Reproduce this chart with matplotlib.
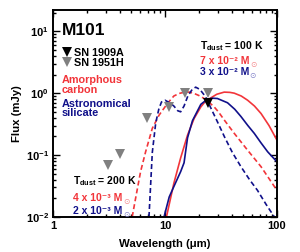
import matplotlib
matplotlib.use("Agg")
import matplotlib.pyplot as plt
from matplotlib.lines import Line2D
from matplotlib.ticker import FixedLocator, FixedFormatter, LogLocator, NullFormatter

plt.rcParams['font.family'] = ['Liberation Sans', 'DejaVu Sans']
plt.rcParams['font.weight'] = 'bold'
plt.rcParams['mathtext.fontset'] = 'custom'
plt.rcParams['mathtext.rm'] = 'Liberation Sans:bold'
plt.rcParams['mathtext.bf'] = 'Liberation Sans:bold'
plt.rcParams['mathtext.it'] = 'Liberation Sans:bold'

# Observations
sn1951h_wl = [3.1, 4.0, 6.9, 10.9, 15.1, 24.0]
sn1951h_flux = [0.069, 0.104, 0.40, 0.60, 1.01, 1.0]
sn1909a_wl = [24.0]
sn1909a_flux = [0.70]

# Models
carbon100_wl = [10.3, 12.0, 13.8, 15.9, 18.2, 20.9, 23.0, 25.7, 29.0, 33.8, 38.0, 41.6, 48.0, 54.7, 63.0, 72.1, 85.0, 100.0]
carbon100_flux = [0.01, 0.035, 0.09, 0.21, 0.39, 0.60, 0.74, 0.84, 0.96, 1.04, 1.03, 1.0, 0.90, 0.77, 0.62, 0.47, 0.30, 0.175]

silicate100_wl = [9.8, 10.9, 12.0, 13.8, 14.8, 15.9, 17.6, 20.9, 23.9, 26.5, 29.4, 36.2, 42.0, 47.7, 55.0, 62.8, 72.0, 82.7, 100.0]
silicate100_flux = [0.01, 0.021, 0.031, 0.054, 0.075, 0.19, 0.36, 0.66, 0.80, 0.83, 0.82, 0.70, 0.55, 0.42, 0.30, 0.224, 0.158, 0.113, 0.078]

carbon200_wl = [5.09, 5.46, 6.05, 6.71, 7.7, 8.84, 10.5, 12.0, 13.4, 15.0, 16.5, 18.2, 20.0, 22.4, 25.0, 27.5, 30.0, 33.8, 41.6, 54.7, 72.1, 100.0]
carbon200_flux = [0.01, 0.020, 0.054, 0.113, 0.27, 0.44, 0.68, 0.90, 0.99, 1.04, 1.04, 0.99, 0.92, 0.82, 0.70, 0.60, 0.50, 0.37, 0.224, 0.12, 0.065, 0.027]

silicate200_wl = [7.19, 7.44, 7.7, 8.26, 8.8, 9.3, 10.0, 11.0, 12.0, 13.0, 13.8, 14.8, 16.0, 17.5, 18.8, 20.5, 23.0, 26.0, 30.0, 34.0, 40.0, 47.7, 57.0, 67.0, 80.0, 95.0]
silicate200_flux = [0.01, 0.033, 0.11, 0.33, 0.55, 0.72, 0.77, 0.70, 0.62, 0.52, 0.50, 0.62, 0.90, 1.15, 1.25, 1.15, 0.88, 0.55, 0.32, 0.197, 0.11, 0.065, 0.040, 0.027, 0.016, 0.010]

yticks = [0.01, 0.1, 1, 10]
ytick_labels = [r'$10^{-2}$', r'$10^{-1}$', r'$10^{0}$', r'$10^{1}$']
xticks = [1, 10, 100]
xtick_labels = ['1', '10', '100']

RED = '#f2353a'
NAVY = '#10108a'
GRAY = '#808080'
RED_LIGHT = '#f58a8d'
NAVY_LIGHT = '#8080c8'

fig = plt.figure(figsize=(3.0, 2.52), dpi=100)
ax = fig.add_axes([0.177, 0.139, 0.746, 0.821])

ax.plot(carbon100_wl, carbon100_flux, color=RED, lw=1.2)
ax.plot(silicate100_wl, silicate100_flux, color=NAVY, lw=1.2)
ax.plot(carbon200_wl, carbon200_flux, color=RED, lw=1.2, ls=(0, (3, 1.8)))
ax.plot(silicate200_wl, silicate200_flux, color=NAVY, lw=1.2, ls=(0, (3, 1.8)))

ax.plot(sn1951h_wl, sn1951h_flux, 'v', color=GRAY, ms=6.5, mew=0, zorder=5)
ax.plot(sn1909a_wl, sn1909a_flux, 'v', color='black', ms=6.5, mew=0, zorder=6)

ax.set_xscale('log')
ax.set_yscale('log')
ax.set_xlim(1, 100)
ax.set_ylim(0.01, 22)

ax.xaxis.set_major_locator(FixedLocator(xticks))
ax.xaxis.set_major_formatter(FixedFormatter(xtick_labels))
ax.yaxis.set_major_locator(FixedLocator(yticks))
ax.yaxis.set_major_formatter(FixedFormatter(ytick_labels))
ax.xaxis.set_minor_locator(LogLocator(base=10, subs=range(2, 10)))
ax.yaxis.set_minor_locator(LogLocator(base=10, subs=range(2, 10)))
ax.xaxis.set_minor_formatter(NullFormatter())
ax.yaxis.set_minor_formatter(NullFormatter())
ax.tick_params(which='both', direction='in', top=True, right=True, width=1.0)
ax.tick_params(which='major', length=5, labelsize=8, pad=3)
ax.tick_params(which='minor', length=2.5)
for s in ax.spines.values():
    s.set_linewidth(1.4)

ax.set_xlabel('Wavelength (μm)', fontsize=8.2, fontweight='bold', labelpad=6)
ax.set_ylabel('Flux (mJy)', fontsize=8.2, fontweight='bold', labelpad=3)

ax.text(0.04, 0.900, 'M101', transform=ax.transAxes, fontsize=12.5, fontweight='bold', va='center', ha='left')

handles = [Line2D([], [], ls='none', marker='v', color='black', ms=6.5, mew=0),
           Line2D([], [], ls='none', marker='v', color=GRAY, ms=6.5, mew=0)]
ax.legend(handles, ['SN 1909A', 'SN 1951H'], loc='upper left', bbox_to_anchor=(0.015, 0.855),
          frameon=False, handlelength=0.6, handletextpad=0.3, labelspacing=0.0,
          borderpad=0.2, prop={'weight': 'bold', 'size': 7.8})

ax.text(0.04, 0.638, 'Amorphous\ncarbon', transform=ax.transAxes, fontsize=7.8, fontweight='bold',
        color=RED, va='center', ha='left', linespacing=0.95)
ax.text(0.04, 0.524, 'Astronomical\nsilicate', transform=ax.transAxes, fontsize=7.8, fontweight='bold',
        color=NAVY, va='center', ha='left', linespacing=0.95)

fs = 7.5


def mass_text(x, y, s, color, light):
    t = ax.text(x, y, s, transform=ax.transAxes, fontsize=fs, va='center', ha='left', color=color)
    ax.annotate('⊙', xy=(1, 0), xycoords=t, xytext=(0.3, -2.0), textcoords='offset points',
                fontsize=5.5, color=light, fontweight='normal', va='bottom', ha='left',
                family=['DejaVu Sans'])
    return t


ax.text(0.656, 0.828, r'T$_{\rm dust}$ = 100 K', transform=ax.transAxes, fontsize=fs, va='center', ha='left')
mass_text(0.656, 0.752, '7 x 10⁻² M', RED, RED_LIGHT)
mass_text(0.656, 0.700, '3 x 10⁻² M', NAVY, NAVY_LIGHT)

ax.text(0.089, 0.172, r'T$_{\rm dust}$ = 200 K', transform=ax.transAxes, fontsize=fs, va='center', ha='left')
mass_text(0.089, 0.092, '4 x 10⁻³ M', RED, RED_LIGHT)
mass_text(0.089, 0.030, '2 x 10⁻³ M', NAVY, NAVY_LIGHT)

fig.savefig('out.png', dpi=100)
